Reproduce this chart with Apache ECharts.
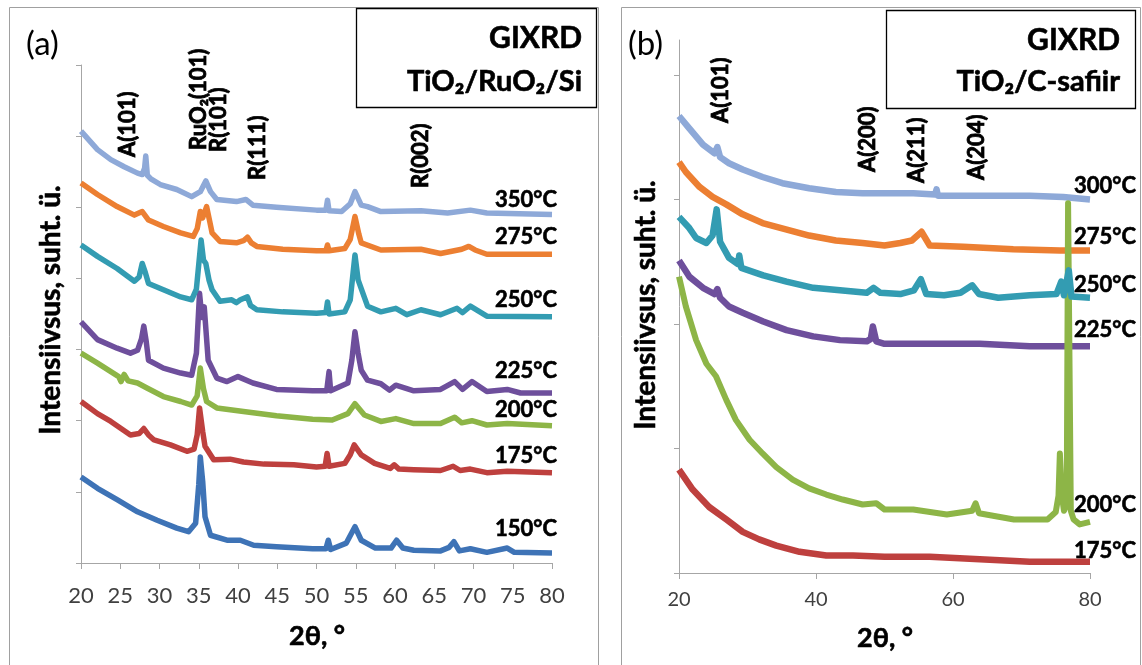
<!DOCTYPE html>
<html><head><meta charset="utf-8">
<script src="https://cdn.jsdelivr.net/npm/echarts@6/dist/echarts.min.js"></script>
<style>html,body{margin:0;padding:0;background:#fff}#c{width:1142px;height:665px}</style>
</head><body><div id="c"></div>
<script>
// ---------- Panel (a): TiO2/RuO2/Si, [2theta, offset intensity] ----------
const a150 = [[20,1.21],[22.1,1.05],[24.6,0.89],[27.2,0.72],[29.7,0.60],[32.2,0.49],[33.7,0.44],[34.6,0.56],[35.0,1.10],[35.2,1.49],[35.5,1.15],[35.8,0.65],[36.5,0.39],[38.6,0.32],[40.3,0.32],[42.0,0.25],[44.9,0.23],[49.5,0.20],[51.2,0.20],[51.5,0.32],[51.8,0.19],[53.8,0.28],[54.9,0.51],[55.7,0.32],[57.5,0.21],[59.5,0.21],[60.2,0.32],[61,0.21],[62.4,0.18],[65.8,0.17],[66.9,0.22],[67.5,0.30],[68.2,0.17],[69.6,0.20],[71.7,0.15],[74.3,0.21],[75.2,0.15],[80,0.14]];
const a175 = [[20,2.27],[22.1,2.10],[23.8,1.99],[26.3,1.80],[27.4,1.82],[28.0,1.89],[28.6,1.80],[29.3,1.73],[31.4,1.66],[33.5,1.57],[34.4,1.60],[34.8,1.80],[35.1,2.18],[35.5,1.85],[35.8,1.64],[36.9,1.45],[39.0,1.46],[40.7,1.42],[43.3,1.39],[47.1,1.38],[50,1.35],[51.1,1.36],[51.35,1.54],[51.6,1.36],[53.6,1.40],[54.3,1.52],[54.8,1.66],[55.7,1.52],[57.4,1.40],[59.4,1.33],[59.9,1.38],[60.5,1.32],[62.4,1.31],[65.8,1.30],[67.4,1.36],[68.3,1.30],[69.6,1.32],[71.7,1.27],[74.3,1.29],[80,1.27]];
const a200 = [[20,2.95],[22.1,2.81],[23.8,2.69],[24.8,2.62],[25.1,2.55],[25.5,2.65],[26.0,2.56],[27.2,2.53],[28.4,2.46],[30.5,2.34],[32.7,2.27],[34.1,2.22],[34.8,2.35],[35.2,2.74],[35.6,2.45],[36.0,2.27],[37.3,2.18],[40.7,2.13],[44.9,2.07],[49.5,2.02],[52,2.01],[54.0,2.10],[54.9,2.24],[56.1,2.08],[58.2,1.99],[60.1,2.03],[62.4,1.96],[65.8,1.96],[67.6,2.05],[68.5,1.97],[69.8,2.00],[71.7,1.94],[74.3,1.96],[80,1.93]];
const a225 = [[20,3.39],[22.1,3.14],[24.6,3.02],[26.3,2.95],[27.2,2.99],[27.7,3.15],[28.0,3.33],[28.3,3.12],[28.6,2.85],[30.5,2.74],[32.7,2.67],[34.1,2.64],[34.7,2.95],[35.1,3.79],[35.4,3.45],[35.7,3.60],[36.2,2.85],[37.3,2.60],[38.6,2.55],[40.0,2.62],[41.9,2.53],[44.9,2.44],[49.5,2.42],[51.3,2.42],[51.6,2.69],[51.8,2.42],[54.0,2.53],[54.5,2.85],[54.9,3.25],[55.3,2.95],[55.7,2.71],[56.5,2.57],[58.2,2.52],[59.3,2.43],[60.1,2.50],[62.4,2.42],[65.8,2.44],[67.6,2.55],[68.6,2.44],[69.8,2.55],[71.7,2.41],[74.3,2.44],[76,2.39],[80,2.39]];
const a250 = [[20,4.47],[22.1,4.31],[24.6,4.14],[26.8,3.96],[27.4,4.02],[27.8,4.21],[28.2,4.08],[28.6,3.93],[30.5,3.84],[32.7,3.74],[34.1,3.70],[34.7,3.85],[35.3,4.54],[35.6,4.26],[35.9,4.21],[36.3,3.98],[36.7,3.84],[37.7,3.68],[39.2,3.70],[39.8,3.66],[40.3,3.70],[41.2,3.74],[41.6,3.62],[42.4,3.56],[45.7,3.53],[50,3.51],[51.2,3.52],[51.4,3.67],[51.6,3.50],[53.6,3.53],[54.3,3.70],[54.9,4.33],[55.3,3.98],[56.5,3.61],[58.2,3.53],[60.1,3.58],[61.5,3.49],[63.3,3.56],[65.8,3.49],[67.9,3.58],[68.6,3.52],[69.6,3.61],[71.7,3.47],[80,3.46]];
const a275 = [[20,5.34],[22.1,5.18],[24.6,5.01],[26.8,4.89],[27.8,4.94],[28.6,4.82],[30.5,4.73],[32.7,4.64],[34.3,4.59],[34.8,4.70],[35.2,4.94],[35.5,4.85],[36.0,5.01],[36.4,4.80],[36.7,4.64],[37.7,4.52],[39.8,4.50],[40.7,4.53],[41.2,4.58],[41.7,4.50],[42.4,4.45],[45.7,4.41],[50,4.39],[51.2,4.39],[51.4,4.47],[51.6,4.39],[53.6,4.42],[54.3,4.55],[54.9,4.87],[55.4,4.62],[55.7,4.50],[58.2,4.40],[63.3,4.41],[65.8,4.35],[68.5,4.41],[69.4,4.45],[70.2,4.40],[71.7,4.34],[80,4.34]];
const a350 = [[20,6.07],[22.1,5.81],[23.8,5.67],[25.5,5.57],[27.2,5.48],[27.8,5.46],[28.1,5.55],[28.25,5.72],[28.45,5.45],[28.9,5.40],[30.1,5.32],[32.2,5.25],[34.1,5.15],[35.2,5.22],[35.9,5.37],[36.5,5.22],[37.3,5.11],[39.8,5.08],[41.0,5.11],[41.9,5.03],[44.9,5.00],[50,4.96],[51.2,4.96],[51.4,5.10],[51.6,4.95],[53.2,4.94],[54.3,5.05],[54.9,5.22],[55.7,5.03],[56.5,5.01],[58.2,4.94],[63.3,4.95],[66.7,4.92],[69.6,4.96],[71.7,4.92],[80,4.90]];

// ---------- Panel (b): TiO2/C-safiir ----------
const b175 = [[20,0.83],[22,0.67],[24.4,0.53],[26.9,0.43],[29.3,0.33],[31.7,0.27],[34.2,0.22],[37.6,0.17],[41.5,0.14],[45.4,0.14],[50,0.13],[56.6,0.13],[63.9,0.11],[71.2,0.09],[80,0.09]];
const b200 = [[20,2.38],[21,2.14],[22.5,1.87],[24,1.68],[25.4,1.58],[26.9,1.39],[28.3,1.23],[30.3,1.07],[32.2,0.96],[34.2,0.85],[36.6,0.75],[39,0.68],[41.5,0.63],[43.9,0.59],[46.8,0.55],[48.8,0.56],[50,0.51],[54.2,0.51],[59.1,0.47],[62.8,0.50],[63.3,0.56],[63.8,0.48],[68.9,0.43],[73.8,0.43],[75.0,0.49],[75.4,0.62],[75.6,0.96],[75.9,0.62],[76.2,0.50],[76.6,0.55],[76.8,2.97],[77.0,2.97],[77.2,0.50],[77.6,0.43],[78.5,0.39],[80,0.41]];
const b225 = [[20,2.51],[21.5,2.38],[23.5,2.29],[25.2,2.24],[25.6,2.28],[26.0,2.21],[27.3,2.14],[29.3,2.09],[32.3,2.02],[35.7,1.95],[39.6,1.90],[43.5,1.87],[47.4,1.86],[48.0,1.88],[48.3,1.98],[48.8,1.86],[50,1.84],[54.2,1.84],[63.9,1.84],[71.2,1.82],[80,1.82]];
const b250 = [[20,2.86],[21.5,2.77],[22.5,2.69],[24,2.65],[24.9,2.71],[25.5,2.92],[26.0,2.66],[27.3,2.53],[28.6,2.48],[28.8,2.55],[29.1,2.45],[32.3,2.39],[35.7,2.34],[39.6,2.29],[43.5,2.27],[47.4,2.25],[48.4,2.29],[49.4,2.25],[52.3,2.24],[54.3,2.27],[55.3,2.36],[56.1,2.24],[58.7,2.23],[61.1,2.25],[62.8,2.31],[63.8,2.24],[66.6,2.21],[71.2,2.23],[75.1,2.24],[75.8,2.34],[76.2,2.23],[76.9,2.43],[77.3,2.22],[80,2.21]];
const b275 = [[20,3.30],[21,3.22],[23,3.10],[24.9,3.02],[26.9,2.96],[29.3,2.88],[32.2,2.81],[35.6,2.76],[39,2.71],[42.9,2.67],[46.8,2.65],[50,2.63],[52.3,2.65],[54,2.67],[55.4,2.74],[56.6,2.63],[61.5,2.62],[68.8,2.60],[75.6,2.59],[80,2.59]];
const b300 = [[20,3.67],[21.5,3.57],[23.5,3.44],[25.2,3.37],[25.6,3.42],[26.0,3.34],[27.3,3.29],[29.3,3.24],[32.2,3.18],[35.1,3.13],[39.0,3.09],[42.9,3.06],[46.8,3.05],[50,3.05],[54.2,3.05],[57.4,3.04],[57.6,3.08],[57.8,3.03],[63.9,3.03],[71.2,3.03],[76.1,3.02],[80,3.00]];

const aLabels = ['150°C','175°C','200°C','225°C','250°C','275°C','350°C'];
const bLabels = ['175°C','200°C','225°C','250°C','275°C','300°C'];
const aPeaks = [['A(101)',26.0],['RuO₂(101)',35.0],['R(101)',37.6],['R(111)',42.5],['R(002)',63.3]];
const bPeaks = [['A(101)',26.1],['A(200)',47.6],['A(211)',54.7],['A(204)',63.5]];

const C = {c150:'#3E73B6',c175:'#BE403E',c200:'#8DB547',c225:'#6E4F9C',c250:'#339CB2',c275:'#EC7F32',c350:'#8EA9D8'};
const FF = 'Lato, "Noto Sans", "DejaVu Sans", sans-serif';
const axisGray = '#A6A6A6';

function ln(data, color, gi, w) {
  return {type:'line', data:data, xAxisIndex:gi, yAxisIndex:gi, showSymbol:false, symbol:'none',
    lineStyle:{color:color, width:w, join:'round'}, itemStyle:{color:color}, silent:true, animation:false};
}

const chart = echarts.init(document.getElementById('c'), null, {renderer:'canvas'});

const option = {
  animation:false,
  backgroundColor:'#fff',
  grid:[{left:81, top:65, width:471, height:498},{left:679, top:40, width:411, height:533}],
  xAxis:[
    {type:'value', gridIndex:0, min:20, max:80, interval:5,
     axisLine:{lineStyle:{color:axisGray}}, axisTick:{length:6, lineStyle:{color:axisGray}},
     axisLabel:{fontSize:22, color:'#404040', fontFamily:FF, margin:22}, splitLine:{show:false}},
    {type:'value', gridIndex:1, min:20, max:80, interval:20,
     axisLine:{lineStyle:{color:axisGray}}, axisTick:{length:6, lineStyle:{color:axisGray}},
     axisLabel:{fontSize:20, color:'#404040', fontFamily:FF, margin:17}, splitLine:{show:false}}
  ],
  yAxis:[
    {type:'value', gridIndex:0, min:0, max:7, interval:1,
     axisLine:{show:true, lineStyle:{color:axisGray}}, axisTick:{show:true, length:5, lineStyle:{color:axisGray}},
     axisLabel:{show:false}, splitLine:{show:false}},
    {type:'value', gridIndex:1, min:0, max:4.28, interval:1,
     axisLine:{show:true, lineStyle:{color:axisGray}}, axisTick:{show:true, length:5, customValues:[0,1,2,3,4], lineStyle:{color:axisGray}},
     axisLabel:{show:false}, splitLine:{show:false}}
  ],
  series:[
    ln(a150,C.c150,0,5.5), ln(a175,C.c175,0,5.5), ln(a200,C.c200,0,5.5), ln(a225,C.c225,0,5.5),
    ln(a250,C.c250,0,5.5), ln(a275,C.c275,0,5.5), ln(a350,C.c350,0,5.5),
    ln(b175,C.c175,1,6.5), ln(b225,C.c225,1,6.5), ln(b275,C.c275,1,6.5), ln(b300,C.c350,1,6.5),
    ln(b200,C.c200,1,6), ln(b250,C.c250,1,6.5)
  ]
};
chart.setOption(option);

function txt(x, y, text, opts) {
  opts = opts || {};
  const size = opts.size || 22, weight = opts.weight || 'bold', align = opts.align || 'left';
  const style = {legacy:false, text:text, fill:'#000', fontSize:size, fontWeight:weight, fontFamily:FF,
      align:align, verticalAlign:'middle'};
  if (weight === 'bold') { style.stroke = '#000'; style.lineWidth = opts.sw || 0.6; }
  return {type:'text', x:x, y:y, rotation:opts.rot || 0, silent:true, z:100, style:style};
}

const aTempY = [529,456,410,371,300,237,200];
const bTempY = [551,505,330,285,237,186];
const aPeakBottom = [157,150,152,180,188];
const bPeakBottom = [123,172,183,180];

const g = [];
g.push({type:'rect', shape:{x:9.5,y:7.5,width:589,height:665}, style:{fill:'none', stroke:'#A0A0A0', lineWidth:1}, silent:true});
g.push({type:'rect', shape:{x:621.5,y:7.5,width:519,height:665}, style:{fill:'none', stroke:'#A0A0A0', lineWidth:1}, silent:true});
g.push({type:'rect', shape:{x:356.5,y:8.5,width:240,height:99}, style:{fill:'#fff', stroke:'#000', lineWidth:1.3}, silent:true, z:90});
g.push({type:'rect', shape:{x:886.5,y:10.5,width:249,height:98}, style:{fill:'#fff', stroke:'#000', lineWidth:1.3}, silent:true, z:90});
g.push(txt(26,44,'(a)',{weight:'normal', size:33}));
g.push(txt(628,44,'(b)',{weight:'normal', size:33}));
g.push(txt(582,38,'GIXRD',{size:30, align:'right'}));
g.push(txt(1120,40,'GIXRD',{size:30, align:'right'}));
g.push(txt(582,82,'TiO₂/RuO₂/Si',{size:29, align:'right'}));
g.push(txt(1120,82,'TiO₂/C-safiir',{size:29, align:'right'}));
aLabels.forEach((t,i)=>g.push(txt(557,aTempY[i],t,{align:'right', size:22})));
bLabels.forEach((t,i)=>g.push(txt(1136,bTempY[i],t,{align:'right', size:22})));
aPeaks.forEach((p,i)=>{
  const x = chart.convertToPixel({xAxisIndex:0}, p[1]);
  g.push(txt(x, aPeakBottom[i], p[0], {rot:Math.PI/2, size:22, sw:0.8}));
});
bPeaks.forEach((p,i)=>{
  const x = chart.convertToPixel({xAxisIndex:1}, p[1]);
  g.push(txt(x, bPeakBottom[i], p[0], {rot:Math.PI/2, size:22, sw:0.8}));
});
g.push(txt(51,310,'Intensiivsus, suht. ü.',{rot:Math.PI/2, size:28, align:'center'}));
g.push(txt(646,305,'Intensiivsus, suht. ü.',{rot:Math.PI/2, size:28, align:'center'}));
g.push(txt(317,636,'2θ, °',{size:27, align:'center'}));
g.push(txt(885,638,'2θ, °',{size:27, align:'center'}));
chart.setOption({graphic:g});
</script></body></html>
